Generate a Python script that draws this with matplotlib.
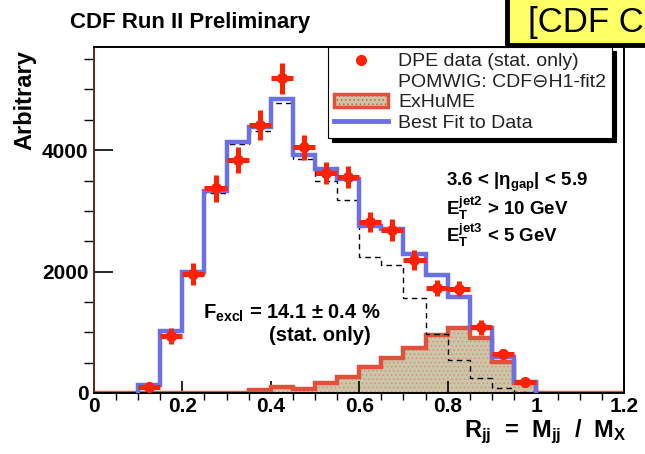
import numpy as np
import matplotlib
matplotlib.use("Agg")
import matplotlib.pyplot as plt
from matplotlib.lines import Line2D
from matplotlib.patches import Patch, Rectangle

plt.rcParams['font.family'] = ['Liberation Sans', 'DejaVu Sans']
plt.rcParams['mathtext.fontset'] = 'custom'
for key in ('rm', 'it', 'bf', 'sf'):
    plt.rcParams['mathtext.' + key] = 'Liberation Sans:bold'
plt.rcParams['hatch.linewidth'] = 0.6

# R_jj histogram binning (0.05 wide bins from 0.1 to 1.0)
bin_lo, bin_hi, bin_w = 0.10, 1.00, 0.05

# DPE data, stat. errors
data_vals = [100, 940, 1960, 3370, 3835, 4410, 5185, 4050, 3620, 3555,
             2815, 2685, 2190, 1730, 1715, 1085, 645, 180]
data_errs = [40, 130, 180, 220, 215, 245, 255, 205, 180, 180,
             165, 180, 165, 125, 125, 125, 85, 55]

# Best fit to data
fit_vals = [130, 1020, 1990, 3330, 4130, 4380, 4840, 3920, 3690, 3520,
            2750, 2700, 2290, 1940, 1580, 1070, 590, 180]

# POMWIG: CDF (-) H1-fit2
pomwig_vals = [120, 1000, 1960, 3300, 4100, 4310, 4770, 3850, 3500, 3180,
               2240, 2105, 1560, 970, 545, 245, 80, 15]

# ExHuME, bins from 0.35 to 1.0
exhume_lo = 0.35
exhume_vals = [50, 100, 65, 170, 270, 430, 575, 740, 955, 1070, 905, 510, 165]

RED = '#ff2200'
BLUE = '#6b70e6'
FILL = '#cbc6a8'
EDGE = '#e0503a'

n_bins = len(data_vals)
edges = bin_lo + bin_w * np.arange(n_bins + 1)
centers = edges[:-1] + bin_w / 2

# ExHuME drawn over the full 0-1.2 range so its edge runs along the floor
full_edges = bin_w * np.arange(int(round(1.2 / bin_w)) + 1)
exhume_full = np.zeros(len(full_edges) - 1)
i0 = int(round(exhume_lo / bin_w))
exhume_full[i0:i0 + len(exhume_vals)] = exhume_vals

fig = plt.figure(figsize=(6.45, 4.54), dpi=100)
ax = fig.add_axes([0.1457, 0.1344, 0.8225, 0.7621])

ax.stairs(exhume_full, full_edges, fill=True, facecolor=FILL,
          edgecolor='#e08a78', hatch='....', linewidth=0, zorder=1)
ax.stairs(exhume_full, full_edges, color=EDGE, linewidth=3.2, zorder=2)
ax.stairs(pomwig_vals, edges, color='black', linestyle=(0, (4, 3)),
          linewidth=1.0, zorder=3)
ax.stairs(fit_vals, edges, color=BLUE, linewidth=3.2, zorder=4)
ax.errorbar(centers, data_vals, xerr=bin_w / 2, yerr=data_errs, fmt='o',
            color=RED, ms=7, elinewidth=3.6, capsize=0, zorder=5)

ax.set_xlim(0, 1.2)
ax.set_ylim(0, 5700)
ax.set_xticks([0, 0.2, 0.4, 0.6, 0.8, 1.0, 1.2])
ax.set_xticklabels(['0', '0.2', '0.4', '0.6', '0.8', '1', '1.2'])
ax.set_xticks(np.arange(0, 1.2001, 0.05), minor=True)
ax.set_yticks([0, 2000, 4000])
ax.set_yticks(np.arange(0, 5700, 500), minor=True)
ax.tick_params(axis='both', direction='in', labelsize=15, width=1.2,
               colors='black')
ax.tick_params(axis='x', which='major', length=9, pad=3)
ax.tick_params(axis='x', which='minor', length=5, width=1)
ax.tick_params(axis='y', which='major', length=14, pad=4)
ax.tick_params(axis='y', which='minor', length=7, width=1)
for lab in ax.get_xticklabels() + ax.get_yticklabels():
    lab.set_fontweight('bold')
for side, sp in ax.spines.items():
    sp.set_linewidth(1.4)
    sp.set_color('#6a2418' if side == 'left' else 'black')

fig.text(0.108, 0.951, 'CDF Run II Preliminary', fontsize=16,
         fontweight='bold', va='center', ha='left')
fig.text(0.038, 0.78, 'Arbitrary', fontsize=17, fontweight='bold',
         rotation=90, ha='center', va='center')
fig.text(0.72, 0.037, r'R$_{\rm jj}$  =  M$_{\rm jj}$  /  M$_{\rm X}$',
         fontsize=17, fontweight='bold', ha='left', va='baseline')

ax.text(0.664, 0.61, r'3.6 < |$\eta_{\rm gap}$| < 5.9', transform=ax.transAxes,
        fontsize=13.5, fontweight='bold', va='center')
ax.text(0.664, 0.535, r'E$_{\rm T}^{\rm jet2}$ > 10 GeV', transform=ax.transAxes,
        fontsize=13.5, fontweight='bold', va='center')
ax.text(0.664, 0.455, r'E$_{\rm T}^{\rm jet3}$ < 5 GeV', transform=ax.transAxes,
        fontsize=13.5, fontweight='bold', va='center')
ax.text(0.205, 0.23, r'F$_{\rm excl}$ = 14.1 ± 0.4 %', transform=ax.transAxes,
        fontsize=14.5, fontweight='bold', va='center')
ax.text(0.330, 0.165, '(stat. only)', transform=ax.transAxes,
        fontsize=14.5, fontweight='bold', va='center')

handles = [
    Line2D([], [], marker='o', color=RED, linestyle='none', ms=7),
    Line2D([], [], color='none'),
    Patch(facecolor=FILL, edgecolor=EDGE, hatch='....', linewidth=2.5),
    Line2D([], [], color=BLUE, linewidth=3.5),
]
labels = ['DPE data (stat. only)', 'POMWIG: CDF⊖H1-fit2', 'ExHuME',
          'Best Fit to Data']
leg = fig.legend(handles, labels, loc='upper left',
                 bbox_to_anchor=(0.5085, 0.8965), bbox_transform=fig.transFigure,
                 fontsize=14, frameon=True, fancybox=False, edgecolor='black',
                 facecolor='white', framealpha=1, borderaxespad=0,
                 handlelength=2.8, handletextpad=0.5, labelspacing=0.15,
                 borderpad=0.3,
                 shadow={'color': 'black', 'alpha': 1, 'ox': 3, 'oy': -3})
leg.get_frame().set_linewidth(0.8)
for t in leg.get_texts():
    t.set_color('#222222')

# yellow label box in the top right corner
fig.patches.append(Rectangle((0.786, 0.901), 0.3, 0.2, transform=fig.transFigure,
                             facecolor='#ffff66', edgecolor='black',
                             linewidth=3.5, zorder=10))
fig.text(0.818, 0.95, '[CDF Collaboration]', fontsize=25, va='center',
         ha='left', zorder=11)

fig.savefig('out.png', dpi=100)
